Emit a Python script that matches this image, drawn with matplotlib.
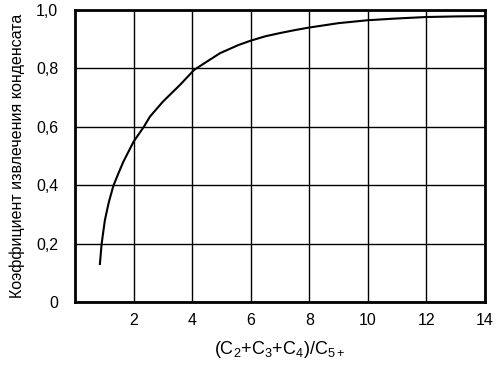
import matplotlib
matplotlib.use('Agg')
import matplotlib.pyplot as plt

# curve
ratio = [0.85, 0.91, 1.02, 1.15, 1.31, 1.48, 1.65, 2.0, 2.35, 2.56, 3.0,
         3.58, 4.07, 4.5, 4.95, 5.58, 6.0, 6.5, 7.0, 7.5, 8.0, 9.0, 10.0,
         11.0, 12.0, 13.0, 14.0]
coef = [0.13, 0.2, 0.28, 0.34, 0.398, 0.44, 0.48, 0.549, 0.60, 0.635, 0.686,
        0.743, 0.795, 0.823, 0.852, 0.88, 0.895, 0.91, 0.921, 0.931, 0.94,
        0.955, 0.965, 0.971, 0.976, 0.978, 0.979]

xticks = [2, 4, 6, 8, 10, 12, 14]
yticks = [0, 0.2, 0.4, 0.6, 0.8, 1.0]
ytick_labels = ['0', '0,2', '0,4', '0,6', '0,8', '1,0']

plt.rcParams['font.family'] = ['Liberation Sans', 'DejaVu Sans']
plt.rcParams['mathtext.fontset'] = 'custom'
plt.rcParams['mathtext.rm'] = 'Liberation Sans'
plt.rcParams['mathtext.it'] = 'Liberation Sans'

fig = plt.figure(figsize=(5.01, 3.78), dpi=100)
ax = fig.add_axes([75/501, 1 - 302/378, 410/501, 292/378])

ax.plot(ratio, coef, color='black', lw=1.5)

ax.set_xlim(0, 14)
ax.set_ylim(0, 1.0)
ax.set_xticks(xticks)
ax.set_yticks(yticks)
ax.set_yticklabels(ytick_labels)
ax.grid(True, color='black', lw=1.0)
ax.set_axisbelow(True)
ax.tick_params(length=0, labelsize=11.5, colors='black')
ax.tick_params(axis='y', pad=12)
ax.tick_params(axis='x', pad=8)
for s in ax.spines.values():
    s.set_linewidth(2.0)

ax.set_xlabel(r'(C$_2$+C$_3$+C$_4$)/C$_{5+}$', fontsize=13, labelpad=8)
ax.set_ylabel('Коэффициент извлечения конденсата', fontsize=11.5, labelpad=8)

fig.savefig('out.png', dpi=100)
